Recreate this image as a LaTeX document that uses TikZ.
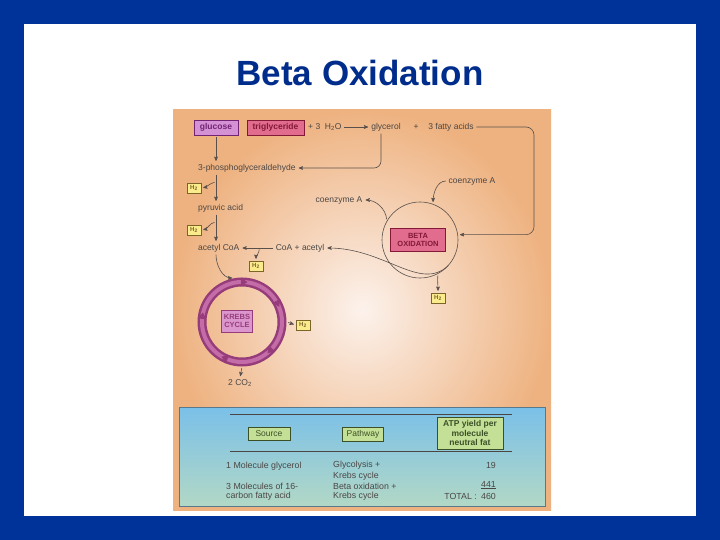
\documentclass[tikz,border=0pt]{standalone}
\usepackage{fontspec}
\setmainfont{Liberation Sans}
\usetikzlibrary{arrows}

\definecolor{slideblue}{RGB}{0,51,153}
\definecolor{titleblue}{RGB}{0,45,140}
\definecolor{txtgray}{RGB}{75,70,68}
\definecolor{arrgray}{RGB}{90,80,75}
\definecolor{peachout}{RGB}{238,178,128}
\definecolor{peachin}{RGB}{252,242,236}
\definecolor{hyellow}{RGB}{250,236,140}
\definecolor{hbrown}{RGB}{125,100,40}
\definecolor{glufill}{RGB}{212,145,212}
\definecolor{gludark}{RGB}{115,35,115}
\definecolor{trigfill}{RGB}{226,108,142}
\definecolor{trigdark}{RGB}{130,25,55}
\definecolor{krebsdark}{RGB}{150,60,122}
\definecolor{krebslight}{RGB}{196,108,168}
\definecolor{krebsfill}{RGB}{218,150,205}
\definecolor{tabtop}{RGB}{122,192,232}
\definecolor{tabbot}{RGB}{178,216,198}
\definecolor{tabedge}{RGB}{90,120,140}
\definecolor{hdrfill}{RGB}{196,224,150}
\definecolor{hdrdark}{RGB}{60,80,40}

\tikzset{
  lbl/.style={font=\fontsize{8.5}{9.5}\selectfont, text=txtgray, inner sep=1pt},
  tlbl/.style={font=\fontsize{8.8}{9.6}\selectfont, text=txtgray, inner sep=0pt},
  arr/.style={->, >=stealth', draw=arrgray, line width=0.6pt, shorten >=2pt, shorten <=1.5pt},
  hbox/.style={draw=hbrown, fill=hyellow, line width=0.5pt, minimum width=14, minimum height=10,
    inner sep=0pt, font=\fontsize{6}{6}\selectfont\bfseries, text=hbrown},
  glubox/.style={draw=gludark, fill=glufill, line width=0.6pt, minimum height=15, inner sep=0pt,
    text height=6.2pt, text depth=1.8pt, font=\fontsize{8.5}{9}\selectfont\bfseries, text=gludark},
  trigbox/.style={draw=trigdark, fill=trigfill, line width=0.6pt, inner sep=0pt,
    font=\fontsize{8.5}{9}\selectfont\bfseries, text=trigdark, align=center},
  krebsbox/.style={draw=krebsdark, fill=krebsfill, line width=0.6pt, inner sep=0pt, align=center,
    minimum width=31, minimum height=22, font=\fontsize{7.5}{8}\selectfont\bfseries, text=krebsdark},
  hdrbox/.style={draw=hdrdark, fill=hdrfill, line width=0.6pt, inner sep=0pt, align=center,
    font=\fontsize{8.5}{9.5}\selectfont, text=hdrdark}
}

\begin{document}
\begin{tikzpicture}[x=1pt,y=-1pt]
\useasboundingbox (0,0) rectangle (720,540);
\fill[slideblue] (0,0) rectangle (720,540);
\fill[white] (24,24) rectangle (696,516);

% Title
\node[font=\fontsize{35}{38}\selectfont\bfseries, text=titleblue] (title) at (360,73) {Beta Oxidation};

% Background of the figure
\shade[inner color=peachin, outer color=peachout] (173,110) rectangle (551,510);

% Top row
\node[glubox, minimum width=44] (glu) at (216,127.5) {glucose};
\node[trigbox, minimum width=57, minimum height=15, text height=6.2pt, text depth=1.8pt] (trig) at (275.5,127.5) {triglyceride};
\node[lbl, anchor=west] (water) at (307,127) {+ 3~~H\textsubscript{2}O};
\node[lbl] (glyc) at (386,127) {glycerol};
\node[lbl] (plus) at (416,127) {+};
\node[lbl] (fatty) at (451,127) {3 fatty acids};
\draw[arr] (water.east) -- (glyc.west);

% Left column
\node[lbl, anchor=west] (pgal) at (197,168) {3-phosphoglyceraldehyde};
\node[lbl, anchor=west] (pyr) at (197,208) {pyruvic acid};
\node[lbl, anchor=west] (acoa) at (197,248) {acetyl CoA};
\node[hbox] (h2a) at (194,188) {H\textsubscript{2}};
\node[hbox] (h2b) at (194,230) {H\textsubscript{2}};

\draw[arr] (glu.south) -- (glu.south |- pgal.north);
\draw[arr] (pgal.south -| glu.south) -- coordinate[pos=.3] (br1) (pyr.north -| glu.south);
\draw[arr] (pyr.south -| glu.south) -- coordinate[pos=.3] (br2) (acoa.north -| glu.south);
\draw[arr] (br1) to[out=190,in=10] (h2a.east);
\draw[arr] (br2) to[out=190,in=10] (h2b.east);

% glycerol joins glycolysis
\draw[arr, rounded corners=7] ([xshift=-5]glyc.south) |- (pgal.east);

% Beta oxidation
\node[circle, draw=arrgray, line width=0.6pt, minimum size=76, inner sep=0pt] (bcirc) at (420,240) {};
\node[trigbox, minimum width=55, minimum height=23, font=\fontsize{7.5}{8.5}\selectfont\bfseries] (beta) at (418,240) {BETA\\OXIDATION};
\node[lbl] (coaL) at (339,200) {coenzyme A};
\node[lbl] (coaR) at (472,181) {coenzyme A};
\node[lbl] (coacet) at (300,248) {CoA + acetyl};
\node[hbox] (h2c) at (256,266) {H\textsubscript{2}};
\node[hbox] (h2d) at (438,298) {H\textsubscript{2}};

\coordinate (rt) at (534,180);
\draw[arr, rounded corners=8] (fatty.east) -| (rt) |- (bcirc.8);
\draw[arr] (bcirc.150) to[out=95,in=0] (coaL.east);
\draw[arr] (coaR.west) to[out=180,in=90] (bcirc.70);
\draw[arr] (bcirc.-40) .. controls (420,292) and (385,248) .. (coacet.east);
\draw[arr] (bcirc.-62) to[out=-95,in=90] (h2d.north);
\draw[arr] (coacet.west) -- coordinate[pos=.45] (br3) (acoa.east);
\draw[arr] (br3) to[out=-90,in=90] (h2c.north);

% Krebs cycle
\coordinate (kc) at (242,322);
\draw[krebsdark, line width=9pt] (kc) circle (40);
\draw[krebslight, line width=4pt] (kc) circle (40);
\foreach \a in {88,28,-45,-115,172}
  \fill[krebsdark, rotate around={\a:(kc)}] (282,326) -- (277.5,319.5) -- (286.5,319.5) -- cycle;
\node[circle, minimum size=89, inner sep=0pt] (kring) at (kc) {};
\node[krebsbox] (krebs) at (237,321) {KREBS\\CYCLE};
\node[hbox] (h2e) at (303,325) {H\textsubscript{2}};
\node[lbl] (co2) at (240,383) {2 CO\textsubscript{2}};

\draw[arr] (acoa.south -| glu.south) to[out=-90,in=180] (kring.100);
\draw[arr] (kring.east) -- (h2e.west);
\draw[arr] (kring.south) -- (co2.north);

% ATP table
\shade[top color=tabtop, bottom color=tabbot, draw=tabedge, line width=0.6pt] (179,407) rectangle (545,506);
\draw[txtgray, line width=0.5pt] (230,414) -- (512,414);
\draw[txtgray, line width=0.5pt] (230,451) -- (512,451);
\node[hdrbox, minimum width=42, minimum height=13] (src) at (269,433.5) {Source};
\node[hdrbox, minimum width=41, minimum height=14] (pway) at (363,434) {Pathway};
\node[hdrbox, minimum width=66, minimum height=32, font=\fontsize{8.5}{9.5}\selectfont\bfseries] (atp) at (470,433) {ATP yield per\\molecule\\neutral fat};

\node[tlbl, anchor=west] (r1a) at (226,466) {1 Molecule glycerol};
\node[tlbl, anchor=west] (r1b) at (333,465) {Glycolysis +};
\node[tlbl, anchor=west] (r1c) at (333,476) {Krebs cycle};
\node[tlbl, anchor=east] (r1d) at (496,465) {19};
\node[tlbl, anchor=west] (r2a) at (226,486) {3 Molecules of 16-};
\node[tlbl, anchor=west] (r2b) at (226,496) {carbon fatty acid};
\node[tlbl, anchor=west] (r2c) at (333,486) {Beta oxidation +};
\node[tlbl, anchor=west] (r2d) at (333,496) {Krebs cycle};
\node[tlbl, anchor=east] (r2e) at (496,485) {\underline{441}};
\node[tlbl, anchor=east] (tot) at (477,496) {TOTAL :};
\node[tlbl, anchor=east] (totv) at (496,496) {460};
\end{tikzpicture}
\end{document}
